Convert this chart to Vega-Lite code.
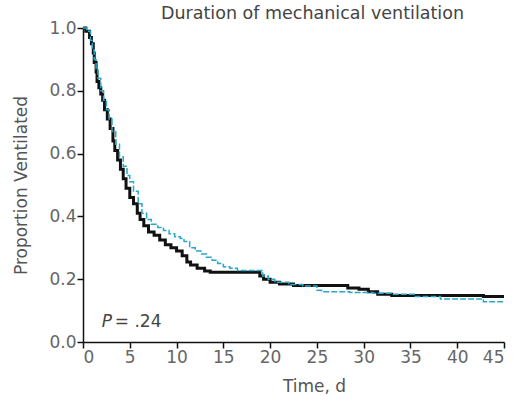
{
  "$schema": "https://vega.github.io/schema/vega-lite/v6.json",
  "width": 421,
  "height": 314,
  "autosize": {"type": "none"},
  "padding": {"left": 83, "top": 28, "right": 13, "bottom": 54},
  "background": "white",
  "config": {
    "view": {"stroke": null},
    "font": "DejaVu Sans",
    "axis": {
      "grid": false,
      "domainColor": "#111",
      "domainWidth": 1.5,
      "tickColor": "#111",
      "tickWidth": 1.5,
      "tickSize": 6,
      "labelFontSize": 17,
      "labelColor": "#666",
      "labelPadding": 1,
      "titleFontSize": 17,
      "titleFontWeight": "normal",
      "titleColor": "#555"
    }
  },
  "title": {
    "text": "Duration of mechanical ventilation",
    "fontSize": 17.5,
    "fontWeight": "normal",
    "color": "#444",
    "anchor": "middle",
    "dx": 19,
    "offset": -3
  },
  "datasets": {
    "curves": [
      {"t": 0, "p": 1.0, "g": "A"},
      {"t": 0.3, "p": 0.99, "g": "A"},
      {"t": 0.7, "p": 0.97, "g": "A"},
      {"t": 0.9, "p": 0.95, "g": "A"},
      {"t": 1.1, "p": 0.92, "g": "A"},
      {"t": 1.2, "p": 0.89, "g": "A"},
      {"t": 1.4, "p": 0.86, "g": "A"},
      {"t": 1.5, "p": 0.83, "g": "A"},
      {"t": 1.7, "p": 0.81, "g": "A"},
      {"t": 1.9, "p": 0.79, "g": "A"},
      {"t": 2.1, "p": 0.77, "g": "A"},
      {"t": 2.3, "p": 0.74, "g": "A"},
      {"t": 2.6, "p": 0.71, "g": "A"},
      {"t": 2.9, "p": 0.68, "g": "A"},
      {"t": 3.2, "p": 0.64, "g": "A"},
      {"t": 3.4, "p": 0.61, "g": "A"},
      {"t": 3.7, "p": 0.58, "g": "A"},
      {"t": 4.0, "p": 0.55, "g": "A"},
      {"t": 4.3, "p": 0.52, "g": "A"},
      {"t": 4.6, "p": 0.49, "g": "A"},
      {"t": 5.0, "p": 0.46, "g": "A"},
      {"t": 5.4, "p": 0.44, "g": "A"},
      {"t": 5.8, "p": 0.41, "g": "A"},
      {"t": 6.1, "p": 0.39, "g": "A"},
      {"t": 6.5, "p": 0.37, "g": "A"},
      {"t": 7.0, "p": 0.35, "g": "A"},
      {"t": 7.6, "p": 0.34, "g": "A"},
      {"t": 8.2, "p": 0.325, "g": "A"},
      {"t": 8.8, "p": 0.31, "g": "A"},
      {"t": 9.4, "p": 0.30, "g": "A"},
      {"t": 10.0, "p": 0.29, "g": "A"},
      {"t": 10.6, "p": 0.275, "g": "A"},
      {"t": 11.1, "p": 0.255, "g": "A"},
      {"t": 11.5, "p": 0.245, "g": "A"},
      {"t": 12.2, "p": 0.235, "g": "A"},
      {"t": 13.0, "p": 0.226, "g": "A"},
      {"t": 13.6, "p": 0.222, "g": "A"},
      {"t": 18.9, "p": 0.21, "g": "A"},
      {"t": 19.3, "p": 0.20, "g": "A"},
      {"t": 20.0, "p": 0.19, "g": "A"},
      {"t": 21.0, "p": 0.185, "g": "A"},
      {"t": 22.5, "p": 0.18, "g": "A"},
      {"t": 28.3, "p": 0.172, "g": "A"},
      {"t": 29.5, "p": 0.168, "g": "A"},
      {"t": 30.5, "p": 0.16, "g": "A"},
      {"t": 31.5, "p": 0.152, "g": "A"},
      {"t": 33.0, "p": 0.148, "g": "A"},
      {"t": 42.8, "p": 0.145, "g": "A"},
      {"t": 45, "p": 0.145, "g": "A"},
      {"t": 0, "p": 1.0, "g": "B"},
      {"t": 0.4, "p": 0.99, "g": "B"},
      {"t": 0.8, "p": 0.96, "g": "B"},
      {"t": 1.0, "p": 0.93, "g": "B"},
      {"t": 1.2, "p": 0.90, "g": "B"},
      {"t": 1.4, "p": 0.87, "g": "B"},
      {"t": 1.6, "p": 0.84, "g": "B"},
      {"t": 1.9, "p": 0.80, "g": "B"},
      {"t": 2.2, "p": 0.77, "g": "B"},
      {"t": 2.5, "p": 0.74, "g": "B"},
      {"t": 2.8, "p": 0.71, "g": "B"},
      {"t": 3.1, "p": 0.67, "g": "B"},
      {"t": 3.5, "p": 0.63, "g": "B"},
      {"t": 3.9, "p": 0.59, "g": "B"},
      {"t": 4.3, "p": 0.56, "g": "B"},
      {"t": 4.7, "p": 0.53, "g": "B"},
      {"t": 5.0, "p": 0.51, "g": "B"},
      {"t": 5.4, "p": 0.48, "g": "B"},
      {"t": 5.9, "p": 0.44, "g": "B"},
      {"t": 6.3, "p": 0.41, "g": "B"},
      {"t": 6.8, "p": 0.39, "g": "B"},
      {"t": 7.3, "p": 0.375, "g": "B"},
      {"t": 8.0, "p": 0.365, "g": "B"},
      {"t": 8.6, "p": 0.355, "g": "B"},
      {"t": 9.2, "p": 0.345, "g": "B"},
      {"t": 9.8, "p": 0.335, "g": "B"},
      {"t": 10.4, "p": 0.33, "g": "B"},
      {"t": 10.8, "p": 0.32, "g": "B"},
      {"t": 11.4, "p": 0.30, "g": "B"},
      {"t": 12.0, "p": 0.29, "g": "B"},
      {"t": 12.6, "p": 0.28, "g": "B"},
      {"t": 13.2, "p": 0.27, "g": "B"},
      {"t": 13.8, "p": 0.26, "g": "B"},
      {"t": 14.4, "p": 0.25, "g": "B"},
      {"t": 15.0, "p": 0.24, "g": "B"},
      {"t": 15.7, "p": 0.235, "g": "B"},
      {"t": 16.5, "p": 0.228, "g": "B"},
      {"t": 19.2, "p": 0.21, "g": "B"},
      {"t": 19.8, "p": 0.20, "g": "B"},
      {"t": 20.5, "p": 0.19, "g": "B"},
      {"t": 22.0, "p": 0.183, "g": "B"},
      {"t": 23.5, "p": 0.178, "g": "B"},
      {"t": 25.0, "p": 0.165, "g": "B"},
      {"t": 25.5, "p": 0.16, "g": "B"},
      {"t": 28.5, "p": 0.158, "g": "B"},
      {"t": 31.0, "p": 0.155, "g": "B"},
      {"t": 33.0, "p": 0.152, "g": "B"},
      {"t": 35.4, "p": 0.145, "g": "B"},
      {"t": 38.2, "p": 0.137, "g": "B"},
      {"t": 42.8, "p": 0.128, "g": "B"},
      {"t": 45, "p": 0.125, "g": "B"}
    ],
    "ann": [
      {"t": 2.0, "p": 0.065, "label": "P", "style": "italic"},
      {"t": 3.4, "p": 0.065, "label": "= .24", "style": "normal"}
    ]
  },
  "layer": [
    {
      "data": {"name": "curves"},
      "transform": [{"filter": "datum.g === 'A'"}],
      "mark": {"type": "line", "interpolate": "step-after", "color": "#111111", "strokeWidth": 3},
      "encoding": {
        "x": {"field": "t", "type": "quantitative", "scale": {"domain": [0, 45], "nice": false},
              "axis": {"values": [0, 5, 10, 15, 20, 25, 30, 35, 40, 45], "title": "Time, d", "titlePadding": 13, "titleX": 231, "titleAnchor": null}},
        "y": {"field": "p", "type": "quantitative", "scale": {"domain": [0, 1], "nice": false},
              "axis": {"values": [0, 0.2, 0.4, 0.6, 0.8, 1.0], "format": ".1f", "title": "Proportion Ventilated", "titlePadding": 18}}
      }
    },
    {
      "data": {"name": "curves"},
      "transform": [{"filter": "datum.g === 'B'"}],
      "mark": {"type": "line", "interpolate": "step-after", "color": "#2aa8c8", "strokeWidth": 1.5, "strokeDash": [6, 2]},
      "encoding": {
        "x": {"field": "t", "type": "quantitative"},
        "y": {"field": "p", "type": "quantitative"}
      }
    },
    {
      "data": {"name": "ann"},
      "transform": [{"filter": "datum.style === 'italic'"}],
      "mark": {"type": "text", "align": "left", "baseline": "middle", "fontSize": 17, "fontStyle": "italic", "color": "#444"},
      "encoding": {
        "x": {"field": "t", "type": "quantitative"},
        "y": {"field": "p", "type": "quantitative"},
        "text": {"field": "label"}
      }
    },
    {
      "data": {"name": "ann"},
      "transform": [{"filter": "datum.style === 'normal'"}],
      "mark": {"type": "text", "align": "left", "baseline": "middle", "fontSize": 17, "color": "#444"},
      "encoding": {
        "x": {"field": "t", "type": "quantitative"},
        "y": {"field": "p", "type": "quantitative"},
        "text": {"field": "label"}
      }
    }
  ]
}
